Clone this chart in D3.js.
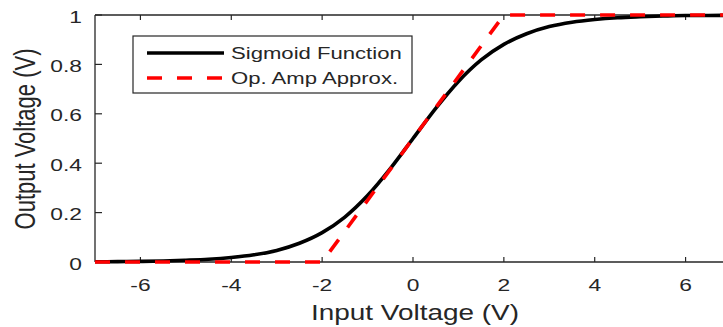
<!DOCTYPE html>
<html>
<head>
<meta charset="utf-8">
<script src="https://cdn.jsdelivr.net/npm/d3@7"></script>
<style>
  html, body { margin: 0; padding: 0; background: #fff; }
  svg { display: block; }
  text { font-family: "Liberation Sans", Arial, sans-serif; fill: #262626; }
</style>
</head>
<body>
<svg id="chart" width="723" height="327"></svg>
<script>
// ---- data ----
const sigmoidX = [-7, -6.5, -6, -5.5, -5, -4.5, -4, -3.5, -3, -2.5, -2, -1.5, -1, -0.5, 0,
                  0.5, 1, 1.5, 2, 2.5, 3, 3.5, 4, 4.5, 5, 5.5, 6, 6.5, 7];
const sigmoidY = [0.001, 0.0015, 0.0025, 0.004, 0.007, 0.011, 0.018, 0.029, 0.047, 0.076, 0.119, 0.182, 0.269, 0.378, 0.5,
                  0.622, 0.731, 0.818, 0.881, 0.924, 0.953, 0.971, 0.982, 0.989, 0.993, 0.996, 0.998, 0.998, 0.999];
const opAmpX = [-7, -2, 2, 7];
const opAmpY = [0, 0, 1, 1];
const xTicks = [-6, -4, -2, 0, 2, 4, 6];
const yTicks = [0, 0.2, 0.4, 0.6, 0.8, 1];
const yTickLabels = ["0", "0.2", "0.4", "0.6", "0.8", "1"];
const seriesNames = ["Sigmoid Function", "Op. Amp Approx."];
const xLabel = "Input Voltage (V)";
const yLabel = "Output Voltage (V)";

// ---- layout ----
const svg = d3.select("#chart");
const L = 95, R = 731, T = 15, B = 262;
const x = d3.scaleLinear().domain([-7, 7]).range([L, R]);
const y = d3.scaleLinear().domain([0, 1]).range([B, T]);
const ink = "#262626";
const SX = 1.34; // horizontal text stretch seen in the reference

function stretchedText(g, px, py, str, size, anchor, sx) {
  return g.append("text")
    .attr("transform", `translate(${px},${py}) scale(${sx},1)`)
    .attr("text-anchor", anchor)
    .style("font-size", size + "px")
    .text(str);
}

// clip horizontally to the axes box
svg.append("defs").append("clipPath").attr("id", "clip")
  .append("rect").attr("x", L).attr("y", 0).attr("width", R - L).attr("height", 327);

// axes box
svg.append("line").attr("x1", L).attr("x2", R).attr("y1", B).attr("y2", B).attr("stroke", ink).attr("stroke-width", 1.3);
svg.append("line").attr("x1", L).attr("x2", R).attr("y1", T).attr("y2", T).attr("stroke", ink).attr("stroke-width", 1.3);
svg.append("line").attr("x1", L).attr("x2", L).attr("y1", T).attr("y2", B).attr("stroke", ink).attr("stroke-width", 1.3);
svg.append("line").attr("x1", R).attr("x2", R).attr("y1", T).attr("y2", B).attr("stroke", ink).attr("stroke-width", 1.3);

// ticks (inward), bottom + top
const tg = svg.append("g");
xTicks.forEach(v => {
  tg.append("line").attr("x1", x(v)).attr("x2", x(v)).attr("y1", B).attr("y2", B - 5).attr("stroke", ink).attr("stroke-width", 1.2);
  tg.append("line").attr("x1", x(v)).attr("x2", x(v)).attr("y1", T).attr("y2", T + 5).attr("stroke", ink).attr("stroke-width", 1.2);
  stretchedText(tg, x(v), 291, v < 0 ? "-" + Math.abs(v) : String(v), 17, "middle", SX);
});
yTicks.forEach((v, i) => {
  tg.append("line").attr("x1", L).attr("x2", L + 7).attr("y1", y(v)).attr("y2", y(v)).attr("stroke", ink).attr("stroke-width", 1.2);
  tg.append("line").attr("x1", R).attr("x2", R - 7).attr("y1", y(v)).attr("y2", y(v)).attr("stroke", ink).attr("stroke-width", 1.2);
  stretchedText(tg, 82, y(v) + 7.5, yTickLabels[i], 17, "end", SX);
});

// axis labels
stretchedText(svg, 415, 320, xLabel, 22, "middle", 1.27);
svg.append("text")
  .attr("transform", `translate(35,139) scale(1.3,1) rotate(-90)`)
  .attr("text-anchor", "middle")
  .style("font-size", "22px")
  .text(yLabel);

// series
const plot = svg.append("g").attr("clip-path", "url(#clip)");
const line = d3.line().x(d => x(d[0])).y(d => y(d[1]));
plot.append("path")
  .datum(sigmoidX.map((v, i) => [v, sigmoidY[i]]))
  .attr("d", line.curve(d3.curveMonotoneX))
  .attr("fill", "none").attr("stroke", "#000").attr("stroke-width", 3.6);
plot.append("path")
  .datum(opAmpX.map((v, i) => [v, opAmpY[i]]))
  .attr("d", d3.line().x(d => x(d[0])).y(d => y(d[1])))
  .attr("fill", "none").attr("stroke", "#ff0000").attr("stroke-width", 3.6)
  .attr("stroke-dasharray", "15,15");

// legend
const lg = svg.append("g");
lg.append("rect").attr("x", 133).attr("y", 36).attr("width", 279).attr("height", 57)
  .attr("fill", "#fff").attr("stroke", ink).attr("stroke-width", 1.2);
const legendStyles = [
  { color: "#000", dash: null },
  { color: "#ff0000", dash: "15,15" }
];
seriesNames.forEach((name, i) => {
  const yy = 53 + i * 25;
  const l = lg.append("line").attr("x1", 147).attr("x2", 224).attr("y1", yy).attr("y2", yy)
    .attr("stroke", legendStyles[i].color).attr("stroke-width", 3.6);
  if (legendStyles[i].dash) l.attr("stroke-dasharray", legendStyles[i].dash);
  stretchedText(lg, 231, yy + 6, name, 16.5, "start", SX);
});
</script>
</body>
</html>
